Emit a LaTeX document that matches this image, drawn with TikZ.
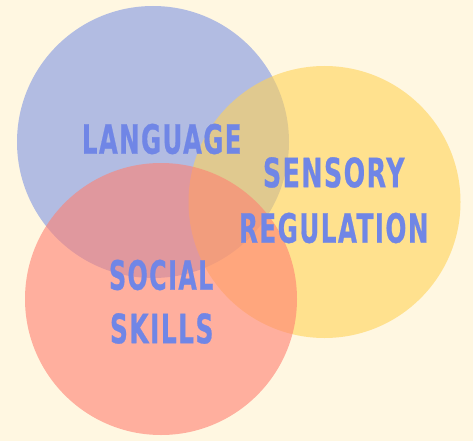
\documentclass[tikz,border=0pt]{standalone}
\usepackage{fontspec}
\setmainfont{DejaVu Sans}[BoldFeatures={FakeBold=0.8,LetterSpace=6}]
\usepackage{graphicx}
\definecolor{bgcream}{RGB}{255,247,225}
\definecolor{cblue}{RGB}{128,150,228}
\definecolor{cyellow}{RGB}{255,211,88}
\definecolor{cred}{RGB}{255,128,114}
\definecolor{txtblue}{RGB}{112,134,230}
\tikzset{
  venn/.style={fill opacity=0.6, draw=none},
  word/.style={inner sep=0pt, text=txtblue, font=\bfseries}
}
\newcommand{\vword}[2]{\resizebox{#1pt}{30pt}{#2\kern-0.06em}}
\begin{document}
\begin{tikzpicture}[x=1pt,y=-1pt]
  \fill[bgcream] (0,0) rectangle (473,441);
  \useasboundingbox (0,0) rectangle (473,441);
  \fill[venn, cblue] (153,142) circle[radius=136pt];
  \fill[venn, cyellow] (324.5,202) circle[radius=136pt];
  \fill[venn, cred] (161,299) circle[radius=136pt];
  \node[word] (lang) at (161,139) {\vword{158}{LANGUAGE}};
  \node[word] (sens) at (333,172.5) {\vword{140}{SENSORY}};
  \node[word] (regu) at (333,228) {\vword{188}{REGULATION}};
  \node[word] (soci) at (160.5,275) {\vword{103}{SOCIAL}};
  \node[word] (skil) at (161,328.5) {\vword{102}{SKILLS}};
\end{tikzpicture}
\end{document}
